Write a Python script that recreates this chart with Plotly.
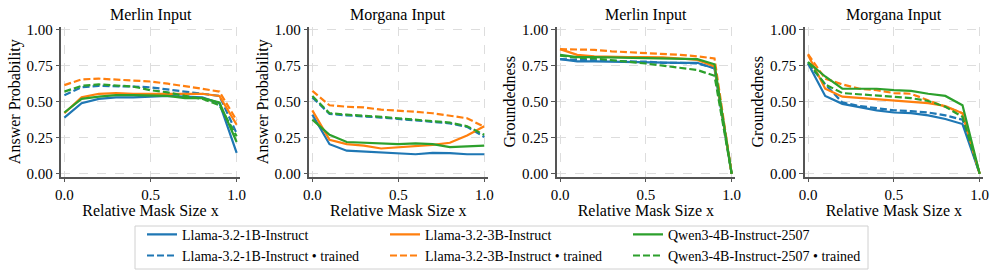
import plotly.graph_objects as go
from plotly.subplots import make_subplots

# ---------------- data ----------------
x_vals = [0.0, 0.1, 0.2, 0.3, 0.4, 0.5, 0.6, 0.7, 0.8, 0.9, 1.0]

panel_titles = ["Merlin Input", "Morgana Input", "Merlin Input", "Morgana Input"]
y_titles = ["Answer Probability", "Answer Probability", "Groundedness", "Groundedness"]
x_title = "Relative Mask Size x"

model_names = ["Llama-3.2-1B-Instruct", "Llama-3.2-3B-Instruct", "Qwen3-4B-Instruct-2507"]
trained_suffix = " • trained"

# Panel 1: Merlin Input, Answer Probability
p1_1b = [0.39, 0.49, 0.52, 0.53, 0.53, 0.535, 0.54, 0.535, 0.53, 0.49, 0.145]
p1_1b_t = [0.545, 0.60, 0.61, 0.61, 0.605, 0.60, 0.585, 0.575, 0.56, 0.54, 0.28]
p1_3b = [0.42, 0.53, 0.555, 0.56, 0.555, 0.555, 0.56, 0.56, 0.555, 0.54, 0.34]
p1_3b_t = [0.615, 0.655, 0.66, 0.655, 0.645, 0.64, 0.625, 0.61, 0.59, 0.57, 0.37]
p1_q = [0.425, 0.52, 0.535, 0.545, 0.545, 0.545, 0.54, 0.525, 0.525, 0.495, 0.22]
p1_q_t = [0.57, 0.61, 0.62, 0.615, 0.605, 0.58, 0.565, 0.54, 0.52, 0.475, 0.26]

# Panel 2: Morgana Input, Answer Probability
p2_1b = [0.41, 0.205, 0.16, 0.155, 0.148, 0.143, 0.135, 0.145, 0.143, 0.135, 0.135]
p2_1b_t = [0.53, 0.415, 0.405, 0.40, 0.39, 0.38, 0.37, 0.36, 0.35, 0.325, 0.255]
p2_3b = [0.44, 0.235, 0.205, 0.195, 0.175, 0.183, 0.195, 0.20, 0.215, 0.265, 0.33]
p2_3b_t = [0.575, 0.475, 0.465, 0.46, 0.445, 0.44, 0.43, 0.42, 0.40, 0.385, 0.325]
p2_q = [0.375, 0.27, 0.22, 0.215, 0.205, 0.205, 0.21, 0.205, 0.185, 0.19, 0.195]
p2_q_t = [0.54, 0.42, 0.41, 0.405, 0.395, 0.385, 0.375, 0.365, 0.355, 0.33, 0.27]

# Panel 3: Merlin Input, Groundedness
p3_1b = [0.795, 0.78, 0.78, 0.777, 0.775, 0.773, 0.772, 0.77, 0.77, 0.73, 0.0]
p3_1b_t = [0.795, 0.79, 0.785, 0.783, 0.78, 0.778, 0.77, 0.77, 0.765, 0.735, 0.0]
p3_3b = [0.865, 0.825, 0.815, 0.81, 0.81, 0.81, 0.808, 0.80, 0.79, 0.745, 0.0]
p3_3b_t = [0.865, 0.865, 0.86, 0.85, 0.845, 0.84, 0.83, 0.825, 0.815, 0.80, 0.0]
p3_q = [0.825, 0.81, 0.81, 0.808, 0.806, 0.805, 0.803, 0.80, 0.795, 0.76, 0.0]
p3_q_t = [0.82, 0.805, 0.80, 0.79, 0.78, 0.765, 0.75, 0.735, 0.72, 0.68, 0.0]

# Panel 4: Morgana Input, Groundedness
p4_1b = [0.765, 0.54, 0.485, 0.46, 0.44, 0.425, 0.42, 0.405, 0.38, 0.345, 0.0]
p4_1b_t = [0.765, 0.62, 0.495, 0.47, 0.455, 0.44, 0.435, 0.425, 0.405, 0.375, 0.0]
p4_3b = [0.825, 0.59, 0.535, 0.525, 0.515, 0.505, 0.50, 0.49, 0.47, 0.42, 0.0]
p4_3b_t = [0.83, 0.66, 0.62, 0.59, 0.58, 0.56, 0.555, 0.51, 0.465, 0.42, 0.0]
p4_q = [0.775, 0.675, 0.59, 0.59, 0.59, 0.58, 0.575, 0.555, 0.54, 0.475, 0.0]
p4_q_t = [0.775, 0.62, 0.56, 0.55, 0.54, 0.535, 0.525, 0.505, 0.465, 0.395, 0.0]

y_ticks = [0.0, 0.25, 0.5, 0.75, 1.0]
x_ticks = [0.0, 0.5, 1.0]

panels = [
    [(p1_1b, p1_1b_t), (p1_3b, p1_3b_t), (p1_q, p1_q_t)],
    [(p2_1b, p2_1b_t), (p2_3b, p2_3b_t), (p2_q, p2_q_t)],
    [(p3_1b, p3_1b_t), (p3_3b, p3_3b_t), (p3_q, p3_q_t)],
    [(p4_1b, p4_1b_t), (p4_3b, p4_3b_t), (p4_q, p4_q_t)],
]

# ---------------- style ----------------
colors = ["#1f77b4", "#ff7f0e", "#2ca02c"]
FONT = "Liberation Serif, Times New Roman, serif"
W, H = 997, 278
ML, MR, MT, MB = 55, 10, 0, 0
PW = W - ML - MR

px_domains = [(60.9, 240.1), (308.9, 487.7), (556.6, 735.1), (804.6, 983.1)]
x_domains = [((a - ML) / PW, (b - ML) / PW) for a, b in px_domains]
y_domain = (1 - 176.6 / H, 1 - 26.8 / H)

fig = make_subplots(rows=1, cols=4)

for p, series in enumerate(panels):
    for m, (solid, trained) in enumerate(series):
        fig.add_trace(go.Scatter(
            x=x_vals, y=solid, mode="lines",
            line=dict(color=colors[m], width=2.2),
            name=model_names[m], legendgroup=f"m{m}",
            legendrank=m + 1, showlegend=(p == 0),
        ), row=1, col=p + 1)
        fig.add_trace(go.Scatter(
            x=x_vals, y=trained, mode="lines",
            line=dict(color=colors[m], width=2.2, dash="7px,3px"),
            name=model_names[m] + trained_suffix, legendgroup=f"t{m}",
            legendrank=m + 4, showlegend=(p == 0),
        ), row=1, col=p + 1)

axis_common = dict(
    showline=True, linecolor="#555555", linewidth=1.5,
    ticks="outside", ticklen=3.5, tickwidth=1.2, tickcolor="#555555",
    showgrid=True, gridcolor="#dddddd", gridwidth=0.8, griddash="dash",
    zeroline=False, tickfont=dict(family=FONT, size=15, color="black"),
    automargin=False,
)

for i in range(4):
    xa = "xaxis" if i == 0 else f"xaxis{i+1}"
    ya = "yaxis" if i == 0 else f"yaxis{i+1}"
    fig.layout[xa].update(
        domain=list(x_domains[i]), range=[-0.02, 1.02],
        tickvals=x_ticks, tickformat=".1f",
        title=dict(text=x_title, font=dict(family=FONT, size=16, color="black"), standoff=2),
        **axis_common,
    )
    fig.layout[ya].update(
        domain=list(y_domain), range=[-0.02, 1.02],
        tickvals=y_ticks, tickformat=".2f",
        title=dict(text=y_titles[i], font=dict(family=FONT, size=16, color="black"), standoff=2),
        **axis_common,
    )
    fig.add_annotation(
        text=panel_titles[i], xref="paper", yref="paper",
        x=(x_domains[i][0] + x_domains[i][1]) / 2, y=1 - 15 / H,
        xanchor="center", yanchor="middle", showarrow=False,
        font=dict(family=FONT, size=16, color="black"),
    )

# legend frame (drawn as a shape so the entries can sit where the reference has them)
fig.add_shape(
    type="rect", xref="paper", yref="paper",
    x0=(135 - ML) / PW, x1=(868 - ML) / PW,
    y0=1 - 269 / H, y1=1 - 226 / H,
    line=dict(color="#d0d0d0", width=1), fillcolor="white", layer="below",
)

fig.update_layout(
    width=W, height=H,
    margin=dict(l=ML, r=MR, t=MT, b=MB, autoexpand=False),
    paper_bgcolor="white", plot_bgcolor="white",
    font=dict(family=FONT, size=14, color="black"),
    showlegend=True,
    legend=dict(
        orientation="h", xref="container", yref="container",
        x=506.5 / W, xanchor="center",
        y=1 - 218.7 / H, yanchor="top",
        borderwidth=0, bgcolor="rgba(0,0,0,0)",
        entrywidth=198, entrywidthmode="pixels", tracegroupgap=0,
        font=dict(family=FONT, size=14, color="black"),
    ),
)

fig.write_html(
    "out.html",
    config={"displayModeBar": False},
    post_script="document.body.style.margin='0';",
)
